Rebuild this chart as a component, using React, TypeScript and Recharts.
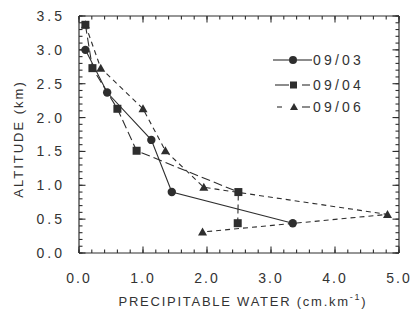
import React from 'react';
import { LineChart, Line, XAxis, YAxis, Legend } from 'recharts';

const seriesNames = ['09/03', '09/04', '09/06'];
const water0903 = [0.1, 0.44, 1.13, 1.45, 3.34];
const altitude0903 = [3.0, 2.37, 1.67, 0.9, 0.44];
const water0904 = [0.1, 0.21, 0.6, 0.9, 2.49, 2.48];
const altitude0904 = [3.37, 2.73, 2.13, 1.51, 0.9, 0.44];
const water0906 = [0.1, 0.34, 1.0, 1.35, 1.95, 4.82, 1.93];
const altitude0906 = [3.37, 2.73, 2.13, 1.51, 0.97, 0.57, 0.31];

const xMajorTicks = [0, 1, 2, 3, 4, 5];
const xTickLabels = ['0.0', '1.0', '2.0', '3.0', '4.0', '5.0'];
const yMajorTicks = [0, 0.5, 1, 1.5, 2, 2.5, 3, 3.5];
const yTickLabels = ['0.0', '0.5', '1.0', '1.5', '2.0', '2.5', '3.0', '3.5'];
const xMinorStep = 0.2;
const yMinorStep = 0.1;
const xTitle = 'PRECIPITABLE WATER (cm.km';
const xTitleSup = '-1';
const yTitle = 'ALTITUDE (km)';

const xTicks = Array.from({ length: 26 }, (_, i) => Math.round(i * xMinorStep * 10) / 10);
const yTicks = Array.from({ length: 36 }, (_, i) => Math.round(i * yMinorStep * 10) / 10);

const toPoints = (w: number[], a: number[]) => w.map((x, i) => ({ x, y: a[i] }));
const data0903 = toPoints(water0903, altitude0903);
const data0904 = toPoints(water0904, altitude0904);
const data0906 = toPoints(water0906, altitude0906);

const INK = '#2e2e2e';
const TEXT = '#333';
const FONT = '"Liberation Sans", Arial, sans-serif';
const T = 3.5; // minor tick length (native, inward)
const M = 6.5; // major tick length

const majorIndex = (majors: number[], v: number) => majors.findIndex((m) => Math.abs(m - v) < 1e-6);

// tick x/y = inner end of the native (inward) tick line
const BottomTick = (props: any) => {
  const { x, y, payload } = props;
  const idx = majorIndex(xMajorTicks, payload.value);
  const ay = y + T;
  return (
    <g>
      {idx >= 0 && <path d={`M${x},${ay}V${ay - M}`} stroke={INK} strokeWidth={1.1} fill="none" />}
      {idx >= 0 && (
        <text x={x} y={ay + 30} textAnchor="middle" fontFamily={FONT} fontSize={14} fill={TEXT} style={{ letterSpacing: 2 }}>
          {xTickLabels[idx]}
        </text>
      )}
    </g>
  );
};

const TopTick = (props: any) => {
  const { x, y, payload } = props;
  const idx = majorIndex(xMajorTicks, payload.value);
  const ay = y - T;
  return idx >= 0 ? <path d={`M${x},${ay}V${ay + M}`} stroke={INK} strokeWidth={1.1} fill="none" /> : <g />;
};

const LeftTick = (props: any) => {
  const { x, y, payload } = props;
  const idx = majorIndex(yMajorTicks, payload.value);
  const ax = x - T;
  return (
    <g>
      {idx >= 0 && <path d={`M${ax},${y}H${ax + M}`} stroke={INK} strokeWidth={1.1} fill="none" />}
      {idx >= 0 && (
        <text x={ax - 14} y={y + 5} textAnchor="end" fontFamily={FONT} fontSize={14} fill={TEXT} style={{ letterSpacing: 3 }}>
          {yTickLabels[idx]}
        </text>
      )}
    </g>
  );
};

const RightTick = (props: any) => {
  const { x, y, payload } = props;
  const idx = majorIndex(yMajorTicks, payload.value);
  const ax = x + T;
  return idx >= 0 ? <path d={`M${ax},${y}H${ax - M}`} stroke={INK} strokeWidth={1.1} fill="none" /> : <g />;
};

const XTitle = (props: any) => {
  const vb = props.viewBox || { x: 79, y: 253, width: 320, height: 65 };
  const cx = vb.x + vb.width / 2 + 4;
  return (
    <text x={cx} y={vb.y + 53} textAnchor="middle" fontFamily={FONT} fontSize={13} fill={TEXT} style={{ letterSpacing: 1.75 }}>
      {xTitle}
      <tspan dy={-6} fontSize={9}>{xTitleSup}</tspan>
      <tspan dy={6}>)</tspan>
    </text>
  );
};

const YTitle = (props: any) => {
  const vb = props.viewBox || { x: 0, y: 16, width: 79, height: 237 };
  const tx = vb.x + 23;
  const ty = vb.y + vb.height / 2 + 4.5;
  return (
    <text x={tx} y={ty} transform={`rotate(-90, ${tx}, ${ty})`} textAnchor="middle" fontFamily={FONT} fontSize={13} fill={TEXT} style={{ letterSpacing: 2 }}>
      {yTitle}
    </text>
  );
};

const CircleDot = (props: any) => {
  const { cx, cy } = props;
  if (cx == null || cy == null) return null;
  return <circle cx={cx} cy={cy} r={4.2} fill={INK} stroke="none" />;
};
const SquareDot = (props: any) => {
  const { cx, cy } = props;
  if (cx == null || cy == null) return null;
  return <rect x={cx - 4} y={cy - 4} width={8} height={8} fill={INK} stroke="none" />;
};
const TriangleDot = (props: any) => {
  const { cx, cy } = props;
  if (cx == null || cy == null) return null;
  return <path d={`M${cx},${cy - 4.5} L${cx + 4.5},${cy + 3.5} L${cx - 4.5},${cy + 3.5} Z`} fill={INK} stroke="none" />;
};
const NoDot = () => null;

const renderLegend = () => {
  const rowY = [12, 37, 59];
  return (
    <svg width={100} height={72} style={{ overflow: 'visible' }}>
      <line x1={1} y1={rowY[0]} x2={17} y2={rowY[0]} stroke={INK} strokeWidth={1.1} />
      <circle cx={21} cy={rowY[0]} r={4} fill={INK} />
      <line x1={25} y1={rowY[0]} x2={40} y2={rowY[0]} stroke={INK} strokeWidth={1.1} />
      <line x1={3} y1={rowY[1]} x2={17} y2={rowY[1]} stroke={INK} strokeWidth={1.1} />
      <rect x={18} y={rowY[1] - 3.5} width={7} height={7} fill={INK} />
      <line x1={30} y1={rowY[1]} x2={38} y2={rowY[1]} stroke={INK} strokeWidth={1.1} />
      <line x1={5} y1={rowY[2]} x2={10} y2={rowY[2]} stroke={INK} strokeWidth={1.1} />
      <path d={`M22,${rowY[2] - 4} L26,${rowY[2] + 3} L18,${rowY[2] + 3} Z`} fill={INK} />
      <line x1={30} y1={rowY[2]} x2={38} y2={rowY[2]} stroke={INK} strokeWidth={1.1} />
      {seriesNames.map((n, i) => (
        <text key={n} x={41} y={rowY[i] + 5} fontFamily={FONT} fontSize={14} fill={TEXT} style={{ letterSpacing: 3.2 }}>
          {n}
        </text>
      ))}
    </svg>
  );
};

const axisCommon = {
  type: 'number' as const,
  interval: 0 as const,
  allowDataOverflow: true,
  tickSize: -T,
  tickMargin: 0,
  tickLine: { stroke: INK, strokeWidth: 1.1 },
  axisLine: { stroke: INK, strokeWidth: 1.2 },
};

export default function App() {
  return (
    <div style={{ position: 'absolute', left: 0, top: 0, width: 411, height: 318, background: '#fff' }}>
      <LineChart width={411} height={318} margin={{ top: 15, right: 11, left: 0, bottom: 0 }}>
        <XAxis
          {...axisCommon}
          xAxisId="bottom"
          dataKey="x"
          domain={[0, 5]}
          ticks={xTicks}
          orientation="bottom"
          height={65}
          tick={BottomTick}
          label={<XTitle />}
        />
        <XAxis
          {...axisCommon}
          xAxisId="top"
          dataKey="x"
          domain={[0, 5]}
          ticks={xTicks}
          orientation="top"
          height={1}
          tick={TopTick}
        />
        <YAxis
          {...axisCommon}
          yAxisId="left"
          domain={[0, 3.5]}
          ticks={yTicks}
          orientation="left"
          width={79}
          tick={LeftTick}
          label={<YTitle />}
        />
        <YAxis
          {...axisCommon}
          yAxisId="right"
          domain={[0, 3.5]}
          ticks={yTicks}
          orientation="right"
          width={1}
          tick={RightTick}
        />
        <Legend
          layout="vertical"
          align="center"
          verticalAlign="middle"
          content={renderLegend}
          wrapperStyle={{ position: 'absolute', left: 272, top: 48, width: 100, height: 72 }}
        />
        <Line
          data={data0903}
          dataKey="y"
          xAxisId="top"
          yAxisId="right"
          type="linear"
          stroke="none"
          dot={NoDot}
          activeDot={false}
          legendType="none"
          isAnimationActive={false}
        />
        <Line
          name={seriesNames[2]}
          data={data0906}
          dataKey="y"
          xAxisId="bottom"
          yAxisId="left"
          type="linear"
          stroke={INK}
          strokeWidth={1.1}
          strokeDasharray="5 4"
          dot={<TriangleDot />}
          isAnimationActive={false}
        />
        <Line
          name={seriesNames[1]}
          data={data0904}
          dataKey="y"
          xAxisId="bottom"
          yAxisId="left"
          type="linear"
          stroke={INK}
          strokeWidth={1.1}
          strokeDasharray="9 4"
          dot={<SquareDot />}
          isAnimationActive={false}
        />
        <Line
          name={seriesNames[0]}
          data={data0903}
          dataKey="y"
          xAxisId="bottom"
          yAxisId="left"
          type="linear"
          stroke={INK}
          strokeWidth={1.1}
          dot={<CircleDot />}
          isAnimationActive={false}
        />
      </LineChart>
    </div>
  );
}
